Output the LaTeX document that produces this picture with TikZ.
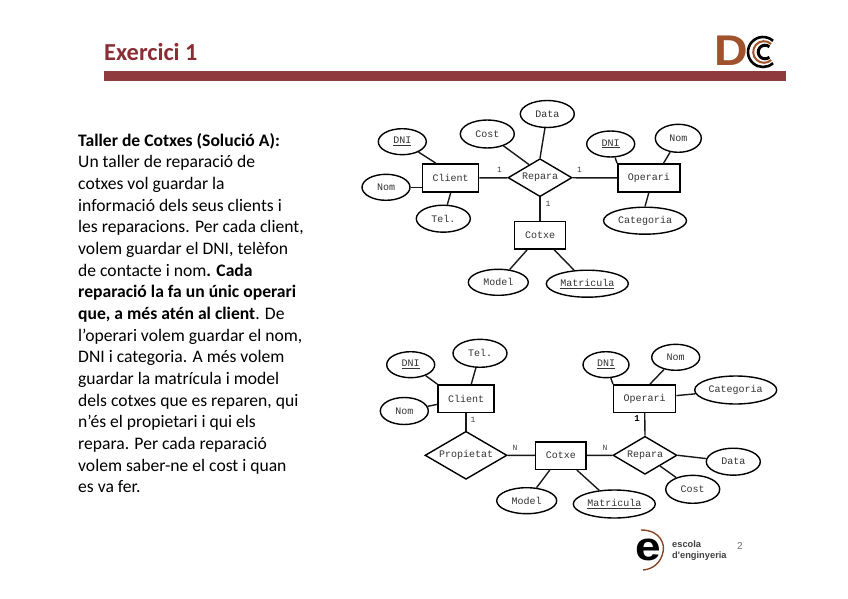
\documentclass[tikz,border=0pt]{standalone}
\usepackage{fontspec}
\setmainfont{Carlito}
\newfontfamily\ermono{Liberation Mono}
\newfontfamily\logosans{Liberation Sans}
\usetikzlibrary{shapes.geometric}
\definecolor{barred}{HTML}{8F3A3C}
\definecolor{titlered}{HTML}{8A2E36}
\definecolor{dcbrown}{HTML}{A0522D}
\tikzset{
  erbase/.style={draw=black,font=\ermono\fontsize{10}{10}\selectfont,inner sep=0pt,text=black!80},
  attr/.style={erbase,ellipse,line width=1.4pt},
  entity/.style={erbase,rectangle,line width=1.5pt},
  rel/.style={erbase,diamond,line width=1.4pt,aspect=1.7},
  link/.style={line width=1.4pt,draw=black!90},
  card/.style={font=\ermono\fontsize{8}{9}\selectfont,inner sep=0pt,text=black!75},
  sz/.style 2 args={minimum width=#1pt,minimum height=#2pt},
}
\begin{document}
\begin{tikzpicture}[x=1pt,y=-1pt]
\useasboundingbox (0,0) rectangle (848,599);
% header
\node[anchor=base west,inner sep=0pt,font=\bfseries\fontsize{24.4}{26}\selectfont,text=titlered] (title) at (104,60.5) {Exercici 1};
\fill[barred] (104,71) rectangle (786,81);
% DC logo
\node[anchor=base west,inner sep=0pt,font=\logosans\bfseries\fontsize{43}{43}\selectfont,text=dcbrown,xscale=1.08] (dcd) at (714,66) {D};
\draw[line width=2.6pt,black] (763,52) ++(-48:15) arc (-48:-312:15);
\draw[line width=2pt,dcbrown] (764,52) ++(-48:10.8) arc (-48:-312:10.8);
\draw[line width=3pt,black] (765,52) ++(-50:6.8) arc (-50:-310:6.8);
% body
\node[anchor=north west,align=left,inner sep=0pt,font=\fontsize{17.6}{21.65}\selectfont,text=black] (body) at (78,133) {%
\textbf{Taller de Cotxes (Solució A):}\\
Un taller de reparació de\\
cotxes vol guardar la\\
informació dels seus clients i\\
les reparacions. Per cada client,\\
volem guardar el DNI, telèfon\\
de contacte i nom\textbf{. Cada}\\
\textbf{reparació la fa un únic operari}\\
\textbf{que, a més atén al client}. De\\
l’operari volem guardar el nom,\\
DNI i categoria. A més volem\\
guardar la matrícula i model\\
dels cotxes que es reparen, qui\\
n'és el propietari i qui els\\
repara. Per cada reparació\\
volem saber-ne el cost i quan\\
es va fer.};
% diagram A
\node[entity,sz={56}{28}] (aclient) at (450.7,178) {Client};
\node[entity,sz={62}{28}] (aoper) at (648.8,178) {Operari};
\node[entity,sz={51}{27.5}] (acotxe) at (540,235.3) {Cotxe};
\node[rel,sz={64}{38}] (arep) at (540,177.7) {Repara};
\node[attr,sz={48}{26}] (adni) at (402.3,141.7) {\underline{DNI}};
\node[attr,sz={48}{26}] (anom) at (386,187.3) {Nom};
\node[attr,sz={54}{27}] (atel) at (443.3,218.7) {Tel.};
\node[attr,sz={54}{28}] (acost) at (487.3,134) {Cost};
\node[attr,sz={54}{27}] (adata) at (547.3,114) {Data};
\node[attr,sz={48}{26}] (adni2) at (610.7,144) {\underline{DNI}};
\node[attr,sz={46}{28}] (anom2) at (678.3,138.3) {Nom};
\node[attr,sz={83}{27}] (acat) at (645,220.7) {Categoria};
\node[attr,sz={60}{26}] (amod) at (498.3,282.3) {Model};
\node[attr,sz={82}{27}] (amat) at (587.3,283.7) {\underline{Matricula}};
\draw[link] (adni) -- (aclient.135);
\draw[link] (anom.east) -- (aclient.west |- anom.east);
\draw[link] (atel) -- (aclient.south);
\draw[link] (aclient) -- (arep);
\draw[link] (arep) -- (aoper);
\draw[link] (acost) -- (arep.130);
\draw[link] (adata) -- (arep.north);
\draw[link] (arep.south) -- (acotxe.north);
\draw[link] (adni2) -- (aoper.north west);
\draw[link] (anom2) -- (aoper.45);
\draw[link] (acat.north) -- (aoper.south);
\draw[link] (amod) -- (acotxe);
\draw[link] (amat) -- (acotxe);
\node[card] (ac1) at (499.5,170) {1};
\node[card] (ac2) at (579.5,170) {1};
\node[card] (ac3) at (548,204) {1};
% diagram B
\node[entity,sz={56}{27.5}] (bclient) at (466,398.6) {Client};
\node[entity,sz={62}{27.5}] (boper) at (644.7,398.6) {Operari};
\node[entity,sz={50.5}{27.5}] (bcotxe) at (560.8,455.5) {Cotxe};
\node[rel,sz={82}{48}] (bprop) at (466,455.3) {Propietat};
\node[rel,sz={64}{38}] (brep) at (645,455.3) {Repara};
\node[attr,sz={48}{26}] (bdni) at (410.7,364.7) {\underline{DNI}};
\node[attr,sz={54}{28}] (btel) at (480,353.3) {Tel.};
\node[attr,sz={48}{27}] (bnom) at (404.3,411) {Nom};
\node[attr,sz={46}{26}] (bdni2) at (606,364.7) {\underline{DNI}};
\node[attr,sz={48}{26}] (bnom2) at (675.7,357.3) {Nom};
\node[attr,sz={82}{28}] (bcat) at (735.7,390) {Categoria};
\node[attr,sz={54}{27}] (bdata) at (733.3,461.7) {Data};
\node[attr,sz={54}{28}] (bcost) at (692.7,489.3) {Cost};
\node[attr,sz={60}{26}] (bmod) at (526.7,500.7) {Model};
\node[attr,sz={82}{28}] (bmat) at (614.3,504) {\underline{Matricula}};
\draw[link] (bdni) -- (bclient.north west);
\draw[link] (btel) -- (bclient.70);
\draw[link] (bnom) -- (bclient);
\draw[link] (bclient.south) -- (bprop.north);
\draw[link] (bprop) -- (bcotxe);
\draw[link] (bcotxe) -- (brep);
\draw[link] (bdni2) -- (boper.north west);
\draw[link] (bnom2) -- (boper.70);
\draw[link] (bcat) -- (boper);
\draw[link] (boper.south) -- (brep.north);
\draw[link] (brep.east) -- (bdata);
\draw[link] (brep) -- (bcost);
\draw[link] (bmod) -- (bcotxe);
\draw[link] (bmat) -- (bcotxe);
\node[card] (bc1) at (473,420) {1};
\node[card] (bc2) at (515,448) {N};
\node[card] (bc3) at (605,448) {N};
\node[card,font=\ermono\bfseries\fontsize{9}{10}\selectfont,text=black] (bc4) at (637,419) {1};
% footer logo
\node[inner sep=0pt,font=\logosans\bfseries\fontsize{40}{40}\selectfont,text=black,anchor=center,xscale=1.15] (eletter) at (648,550) {e};
\draw[line width=1.4pt,dcbrown!85!black] (641,530) .. controls (661,530) and (665,545) .. (663,552) .. controls (661,562) and (654,569) .. (643,570);
\node[anchor=base west,align=left,inner sep=0pt,font=\logosans\bfseries\fontsize{9.3}{11.5}\selectfont,text=black!75] (esc) at (672,558.5) {escola\\d'enginyeria};
\node[inner sep=0pt,font=\logosans\fontsize{10}{10}\selectfont,text=black!55] (pageno) at (740,546) {2};
\end{tikzpicture}
\end{document}
